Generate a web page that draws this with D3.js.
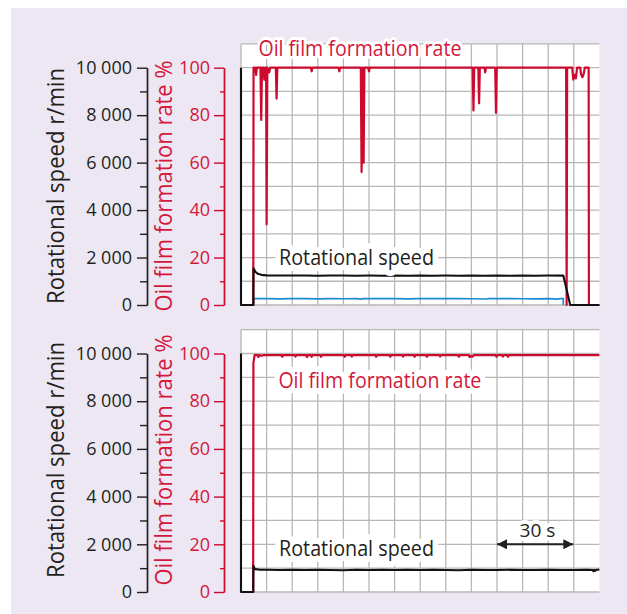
<!DOCTYPE html>
<html>
<head>
<meta charset="utf-8">
<script src="https://cdn.jsdelivr.net/npm/d3@7"></script>
<style>
  body { margin: 0; background: #fff; }
  text { font-family: "Open Sans", "Noto Sans", sans-serif; }
</style>
</head>
<body>
<div class="chart"></div>
<script>
// time axis (s), gridlines every 10 s
const timeGrid = [0,10,20,30,40,50,60,70,80,90,100,110,120,130];
const rateGrid = [0,10,20,30,40,50,60,70,80,90,100,110];
const speedTicks = [0,2000,4000,6000,8000,10000];
const speedMinor = [1000,3000,5000,7000,9000];
const rateTicks = [0,20,40,60,80,100];
const rateMinor = [10,30,50,70,90];

// top panel
const topSpeed = [[0,10000],[0,0],[4.8,0],[4.9,1550],[5.6,1400],[6.5,1320],[8,1270],[10,1250],[15,1245],[20,1240],[25,1245],[30,1235],[35,1240],[40,1245],[45,1235],[50,1240],[55,1235],[60,1240],[65,1230],[70,1240],[75,1235],[80,1240],[85,1235],[90,1240],[95,1230],[100,1240],[105,1235],[110,1240],[115,1230],[120,1240],[125.9,1240],[128.6,0],[140,0]];
const topBlue = [[4.9,0],[5,265],[10,268],[15,262],[20,270],[25,265],[30,262],[35,268],[40,264],[45,266],[47,250],[47.5,270],[55,265],[60,268],[65,262],[70,270],[75,266],[80,272],[85,268],[90,264],[96,252],[96.6,268],[100,266],[105,270],[110,264],[115,262],[120,266],[124,250],[124.5,265],[125.9,265],[125.9,0]];
const topRate = [[0,0],[4.8,0],[4.9,100],[5.6,100],[5.9,97],[6.2,100],[7.6,100],[7.9,78],[8.2,100],[8.8,100],[9.1,95],[9.4,100],[9.8,100],[10,34],[10.3,100],[11,98],[11.4,100],[13.6,100],[13.9,87],[14.2,100],[27.3,100],[27.6,98.5],[27.9,100],[38.1,100],[38.4,98.5],[38.7,100],[46.8,100],[47.1,56],[47.4,100],[47.6,100],[47.9,60],[48.2,100],[49.7,100],[50,98.5],[50.3,100],[90.5,100],[90.8,82],[91.1,100],[92.7,100],[93,85],[93.3,100],[95.1,100],[95.4,98],[95.7,100],[99.3,100],[99.6,81],[99.9,100],[127,100],[127.2,0],[127.4,100],[129.4,100],[129.8,95],[130.3,97],[130.8,95.5],[131.3,100],[132.5,100],[132.9,97],[133.4,96],[133.9,97.5],[134.3,100],[135.8,100],[135.9,0],[140,0]];

// bottom panel
const bottomSpeed = [[0,10000],[0,0],[4.8,0],[4.85,1100],[5.4,960],[7,940],[10,930],[15,925],[20,935],[25,920],[30,930],[35,925],[40,915],[45,930],[50,920],[55,930],[60,925],[65,935],[70,920],[75,930],[80,925],[85,915],[90,930],[95,920],[100,925],[105,930],[110,920],[115,925],[120,930],[125,920],[130,925],[135,930],[137.3,925],[137.7,870],[138,925],[138.4,885],[138.8,930],[140,935]];
const bottomRate = [[0,0],[4.75,0],[4.85,96],[5.3,99.3],[6.5,99.3],[6.8,98.5],[7.1,99.3],[8,99.1],[9,99.3],[15.8,99.3],[16.1,98.6],[16.4,99.3],[21,99.3],[21.3,98.7],[21.6,99.3],[25.5,99.3],[25.8,98.5],[26.1,99.3],[27.3,99.3],[27.6,98.6],[27.9,99.3],[31,99.3],[31.3,98.6],[31.6,99.3],[40.2,99.3],[40.5,98.6],[40.8,99.3],[43,99.3],[43.3,98.7],[43.6,99.3],[52.5,99.3],[52.8,98.6],[53.1,99.3],[58,99.3],[58.3,98.6],[58.6,99.3],[63,99.3],[63.3,98.7],[63.6,99.3],[67.5,99.3],[67.8,98.6],[68.1,99.3],[72.3,99.3],[72.6,98.6],[72.9,99.3],[77.5,99.3],[77.8,98.7],[78.1,99.3],[84.8,99.3],[85.1,98.6],[85.4,99.3],[89,99.3],[89.3,98.5],[89.6,99.0],[90.5,98.7],[90.9,99.3],[99.5,99.3],[99.8,98.6],[100.1,99.3],[102,99.3],[102.3,98.7],[102.6,99.3],[104,99.3],[104.3,98.6],[104.6,99.3],[140,99.3]];

const RED = "#cc0a2f", RED_TXT = "#d3183c", INK = "#231f20", BLUE = "#1a8ad2", GRID = "#b7b7b7";

const width = 627, height = 614;
const svg = d3.select(".chart").append("svg")
    .attr("width", width)
    .attr("height", height);

svg.append("rect")
    .attr("x", 11).attr("y", 8)
    .attr("width", width - 11).attr("height", height - 8)
    .attr("fill", "#ece7f2");

const x = d3.scaleLinear().domain([0, 140]).range([241, 599.4]);

const fmt = d3.formatLocale({ decimal: ".", thousands: "\u2009", grouping: [3], currency: ["", ""] }).format(",");
const fmtSpace = d => fmt(d).replace("\u2009", " ");

// arrow heads for the 30 s marker
const defs = svg.append("defs");
defs.append("marker")
    .attr("id", "arrow")
    .attr("viewBox", "0 0 10 10")
    .attr("refX", 10).attr("refY", 5)
    .attr("markerWidth", 11).attr("markerHeight", 10)
    .attr("markerUnits", "userSpaceOnUse")
    .attr("orient", "auto-start-reverse")
    .append("path")
    .attr("d", "M0,0L10,5L0,10Z")
    .attr("fill", INK);

function halo(sel, w) {
    return sel.attr("stroke", "#fff").attr("stroke-width", w)
        .attr("stroke-linejoin", "round").attr("paint-order", "stroke");
}

function drawPanel(p) {
    const ySpeed = d3.scaleLinear().domain([0, 10000]).range([p.bottom, p.top]);
    const yRate = d3.scaleLinear().domain([0, 100]).range([p.bottom, p.top]);
    const g = svg.append("g");

    // plot area
    g.append("rect")
        .attr("x", x(0)).attr("y", yRate(110))
        .attr("width", x(140) - x(0)).attr("height", yRate(0) - yRate(110))
        .attr("fill", "#fff");

    g.selectAll(".vgrid")
        .data(timeGrid)
        .enter()
        .append("line")
        .attr("x1", d => x(d)).attr("x2", d => x(d))
        .attr("y1", yRate(110)).attr("y2", yRate(0))
        .attr("stroke", GRID).attr("stroke-width", 1.3);

    g.selectAll(".hgrid")
        .data(rateGrid)
        .enter()
        .append("line")
        .attr("x1", x(0)).attr("x2", x(140))
        .attr("y1", d => yRate(d)).attr("y2", d => yRate(d))
        .attr("stroke", GRID).attr("stroke-width", 1.3);

    /* axes */
    const ax1 = g.append("g").attr("transform", "translate(147,0)")
        .call(d3.axisLeft(ySpeed).tickValues(speedTicks).tickFormat(fmtSpace)
            .tickSize(10).tickSizeOuter(0).tickPadding(5));
    g.append("g").attr("transform", "translate(147,0)")
        .call(d3.axisLeft(ySpeed).tickValues(speedMinor).tickFormat("")
            .tickSize(7).tickSizeOuter(0));
    const ax2 = g.append("g").attr("transform", "translate(224,0)")
        .call(d3.axisLeft(yRate).tickValues(rateTicks)
            .tickSize(10).tickSizeOuter(0).tickPadding(4));
    g.append("g").attr("transform", "translate(224,0)")
        .call(d3.axisLeft(yRate).tickValues(rateMinor).tickFormat("")
            .tickSize(4).tickSizeOuter(0));

    g.selectAll(".domain").attr("stroke-width", 1.4);
    g.selectAll(".tick line").attr("stroke-width", 1.4);
    ax1.selectAll("text").attr("font-size", 18).attr("fill", INK);
    ax2.selectAll("text").attr("font-size", 18).attr("fill", RED_TXT);
    g.selectAll("g").filter(function() { return this.parentNode === g.node(); })
        .each(function(d, i) {
            const c = (i < 2) ? INK : RED;
            d3.select(this).selectAll(".domain, .tick line").attr("stroke", c);
        });

    // axis titles
    g.append("text")
        .attr("transform", `translate(64,${p.titleMid}) rotate(-90)`)
        .attr("text-anchor", "middle")
        .attr("font-size", 23)
        .attr("fill", INK)
        .attr("textLength", 236).attr("lengthAdjust", "spacingAndGlyphs")
        .text("Rotational speed r/min");
    g.append("text")
        .attr("transform", `translate(172,${p.titleMid}) rotate(-90)`)
        .attr("text-anchor", "middle")
        .attr("font-size", 23)
        .attr("fill", RED_TXT)
        .attr("textLength", 251).attr("lengthAdjust", "spacingAndGlyphs")
        .text("Oil film formation rate %");

    const line = d3.line();

    if (p.blue) {
        g.append("path")
            .attr("d", line(p.blue.map(d => [x(d[0]), ySpeed(d[1])])))
            .attr("fill", "none").attr("stroke", BLUE).attr("stroke-width", 1.7);
    }
    g.append("path")
        .attr("d", line(p.rate.map(d => [x(d[0]), yRate(d[1])])))
        .attr("fill", "none").attr("stroke", RED).attr("stroke-width", 2.2)
        .attr("stroke-linejoin", "round");
    g.append("path")
        .attr("d", line(p.speed.map(d => [x(d[0]), ySpeed(d[1])])))
        .attr("fill", "none").attr("stroke", "#111").attr("stroke-width", 2.1)
        .attr("stroke-linejoin", "round");

    // in-plot labels
    halo(g.append("text"), p.rateHalo)
        .attr("x", x(p.rateLabel[0])).attr("y", yRate(p.rateLabel[1]))
        .attr("font-size", 21.5).attr("fill", RED_TXT)
        .attr("textLength", 203).attr("lengthAdjust", "spacingAndGlyphs")
        .text("Oil film formation rate");
    halo(g.append("text"), 12)
        .attr("x", x(14.85)).attr("y", ySpeed(p.speedLabel))
        .attr("font-size", 21).attr("fill", INK)
        .attr("textLength", 155).attr("lengthAdjust", "spacingAndGlyphs")
        .text("Rotational speed");

    if (p.scaleBar) {
        halo(g.append("text"), 8)
            .attr("x", x(115.8)).attr("y", ySpeed(2320))
            .attr("text-anchor", "middle")
            .attr("font-size", 19).attr("fill", INK)
            .attr("textLength", 36).attr("lengthAdjust", "spacingAndGlyphs")
            .text("30 s");
        g.append("line")
            .attr("x1", x(100)).attr("x2", x(129.8))
            .attr("y1", ySpeed(2000)).attr("y2", ySpeed(2000))
            .attr("stroke", INK).attr("stroke-width", 2)
            .attr("marker-start", "url(#arrow)")
            .attr("marker-end", "url(#arrow)");
    }
}

drawPanel({ top: 67.7, bottom: 305, titleMid: 186, speed: topSpeed, rate: topRate, blue: topBlue,
    rateLabel: [6.8, 105], rateHalo: 6, speedLabel: 1690 });
drawPanel({ top: 353.5, bottom: 592, titleMid: 460, speed: bottomSpeed, rate: bottomRate,
    rateLabel: [14.6, 85.7], rateHalo: 12, speedLabel: 1515, scaleBar: true });
</script>
</body>
</html>
